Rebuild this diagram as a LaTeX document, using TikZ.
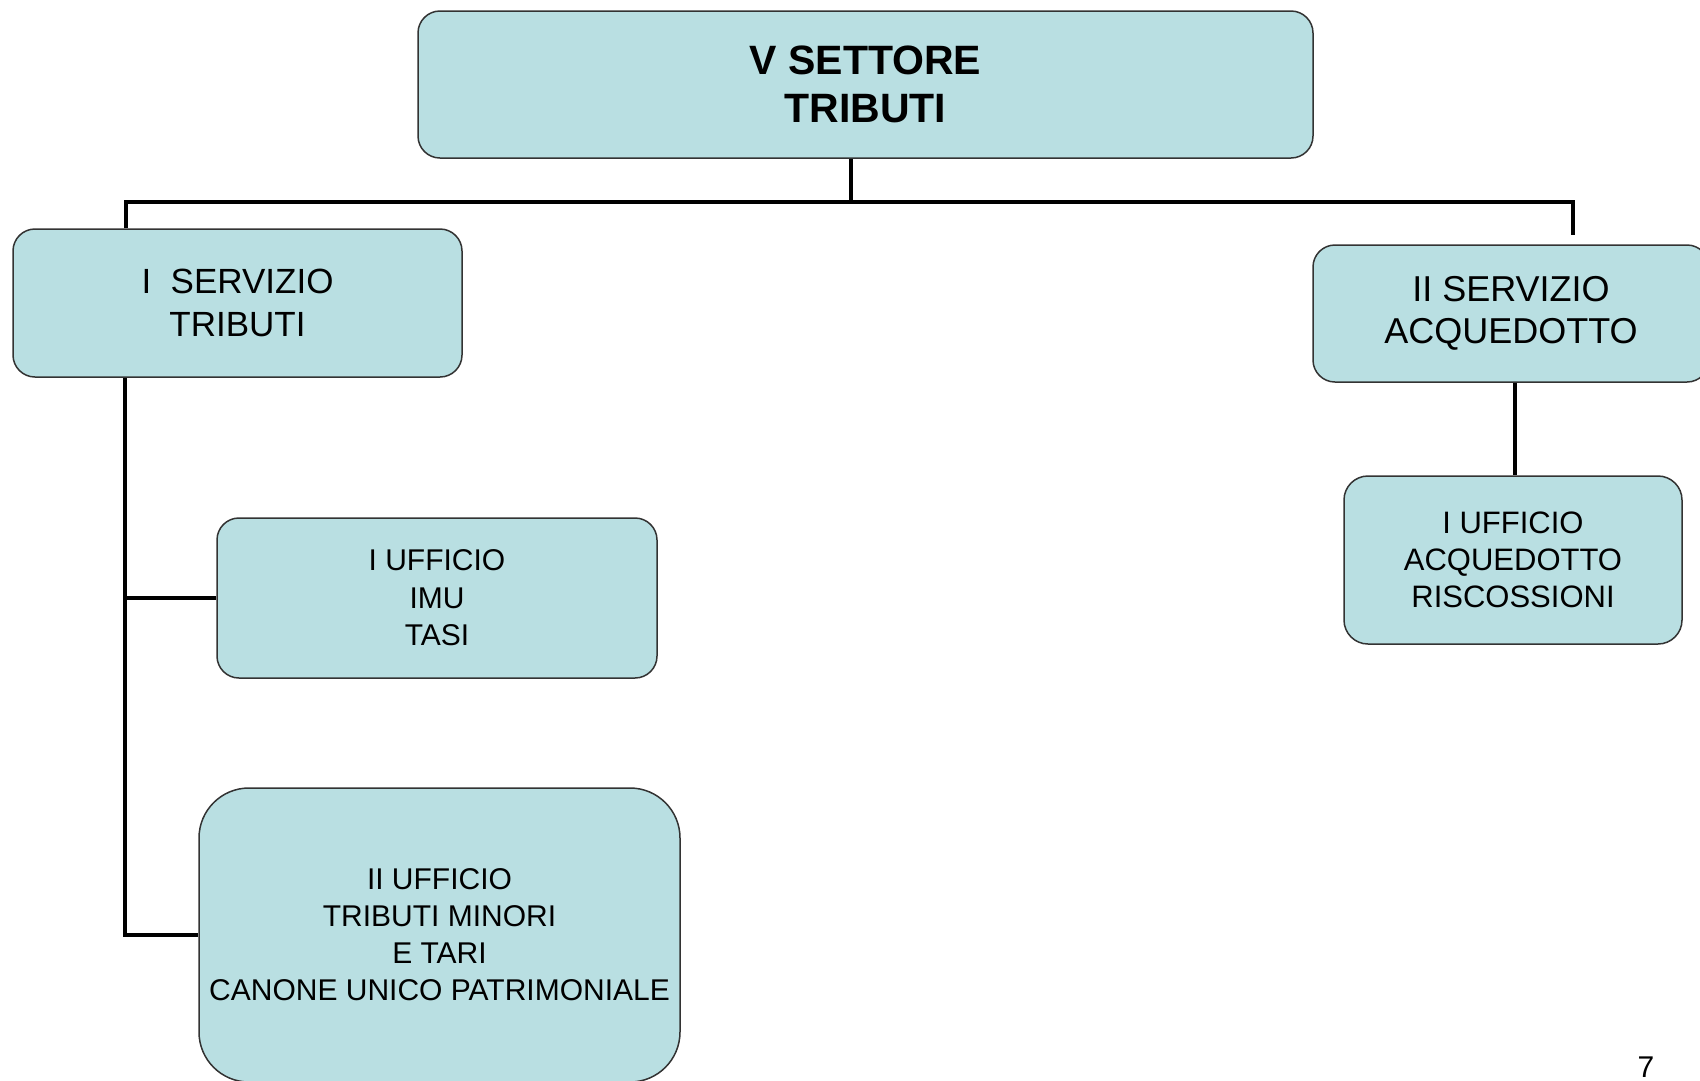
\documentclass[tikz,border=0pt]{standalone}
\usepackage{fontspec}
\setmainfont{Liberation Sans}
\definecolor{boxfill}{HTML}{B9DFE2}
\definecolor{boxline}{HTML}{333333}
\begin{document}
\begin{tikzpicture}[x=1pt,y=-1pt,
  orgbox/.style={draw=boxline, line width=1.5pt, fill=boxfill, rounded corners=22pt,
    align=center, inner sep=0pt, text=black},
  conn/.style={draw=black, line width=4.5pt}
]
\useasboundingbox (0,0) rectangle (1700,1080);

% boxes
\node[orgbox, minimum width=895pt, minimum height=147pt,
  font=\fontsize{41}{48}\selectfont\bfseries] (top) at (865.5,84.5) {V SETTORE\\TRIBUTI};
\node[orgbox, minimum width=449pt, minimum height=148pt,
  font=\fontsize{35}{43}\selectfont] (s1) at (237.5,303) {I\ \ SERVIZIO\\TRIBUTI};
\node[orgbox, minimum width=396pt, minimum height=137pt,
  font=\fontsize{36}{42}\selectfont] (s2) at (1511,313.5) {II SERVIZIO\\ACQUEDOTTO};
\node[orgbox, minimum width=338pt, minimum height=168pt, rounded corners=24pt,
  font=\fontsize{31}{37}\selectfont] (a1) at (1513,560) {I UFFICIO\\ACQUEDOTTO\\RISCOSSIONI};
\node[orgbox, minimum width=440pt, minimum height=160pt,
  font=\fontsize{30}{37.5}\selectfont] (u1) at (437,598) {I UFFICIO\\IMU\\TASI};
\node[orgbox, minimum width=481pt, minimum height=294pt, rounded corners=50pt,
  font=\fontsize{30}{37}\selectfont] (u2) at (439.5,935) {II UFFICIO\\TRIBUTI MINORI\\E TARI\\CANONE UNICO PATRIMONIALE};

% page number
\node[anchor=base, inner sep=0pt, font=\fontsize{30}{36}\selectfont] (pg) at (1646,1077) {7};

% connector coordinates
\coordinate (busmid) at (851,202);
\coordinate (busl) at (126,202);
\coordinate (busr) at (1573,202);
\coordinate (rend) at (1573,235);
\coordinate (trunk) at (125,935);
\coordinate (acq) at (1515,0);

% connectors
\draw[conn] (top.south -| busmid) -- (busmid);
\draw[conn] (s1.north -| busl) |- (busr) -- (rend);
\draw[conn] (s1.south -| trunk) |- (u2.west);
\draw[conn] (trunk |- u1.west) -- (u1.west);
\draw[conn] (s2.south -| acq) -- (a1.north -| acq);
\end{tikzpicture}
\end{document}
